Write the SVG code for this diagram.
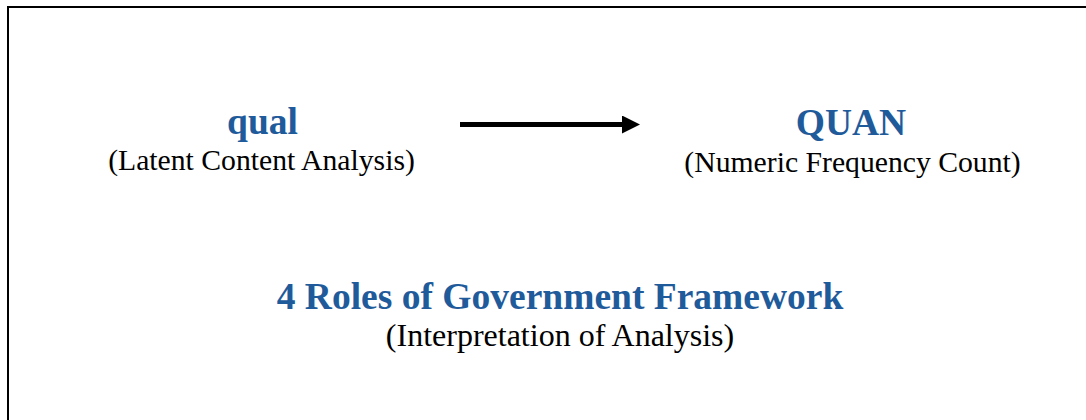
<svg xmlns="http://www.w3.org/2000/svg" width="1086" height="420" viewBox="0 0 1086 420">
<style>
.t{font-family:"Liberation Serif","Times New Roman",serif;font-weight:bold;fill:#1f5b9b;text-anchor:middle;font-size:37.5px}
.s{font-family:"Liberation Serif","Times New Roman",serif;fill:#000;text-anchor:middle}
</style>
<defs>
<marker id="ah" markerWidth="18" markerHeight="18" refX="0" refY="9" orient="auto" markerUnits="userSpaceOnUse">
<path d="M0,0 L18,9 L0,18 Z" fill="#000"/>
</marker>
</defs>
<rect x="0" y="0" width="1086" height="420" fill="#fff"/>
<rect x="8" y="7" width="1100" height="430" fill="none" stroke="#000" stroke-width="2"/>
<g id="connectors">
<line x1="460" y1="124.5" x2="622" y2="124.5" stroke="#000" stroke-width="5" marker-end="url(#ah)"/>
</g>
<g id="qual">
<text class="t" x="262.5" y="134">qual</text>
<text class="s" x="261.5" y="170" font-size="29.7">(Latent Content Analysis)</text>
</g>
<g id="quan">
<text class="t" x="851" y="135">QUAN</text>
<text class="s" x="852.5" y="172" font-size="29.7">(Numeric Frequency Count)</text>
</g>
<g id="framework">
<text class="t" x="560" y="309">4 Roles of Government Framework</text>
<text class="s" x="560" y="346" font-size="32">(Interpretation of Analysis)</text>
</g>
</svg>
